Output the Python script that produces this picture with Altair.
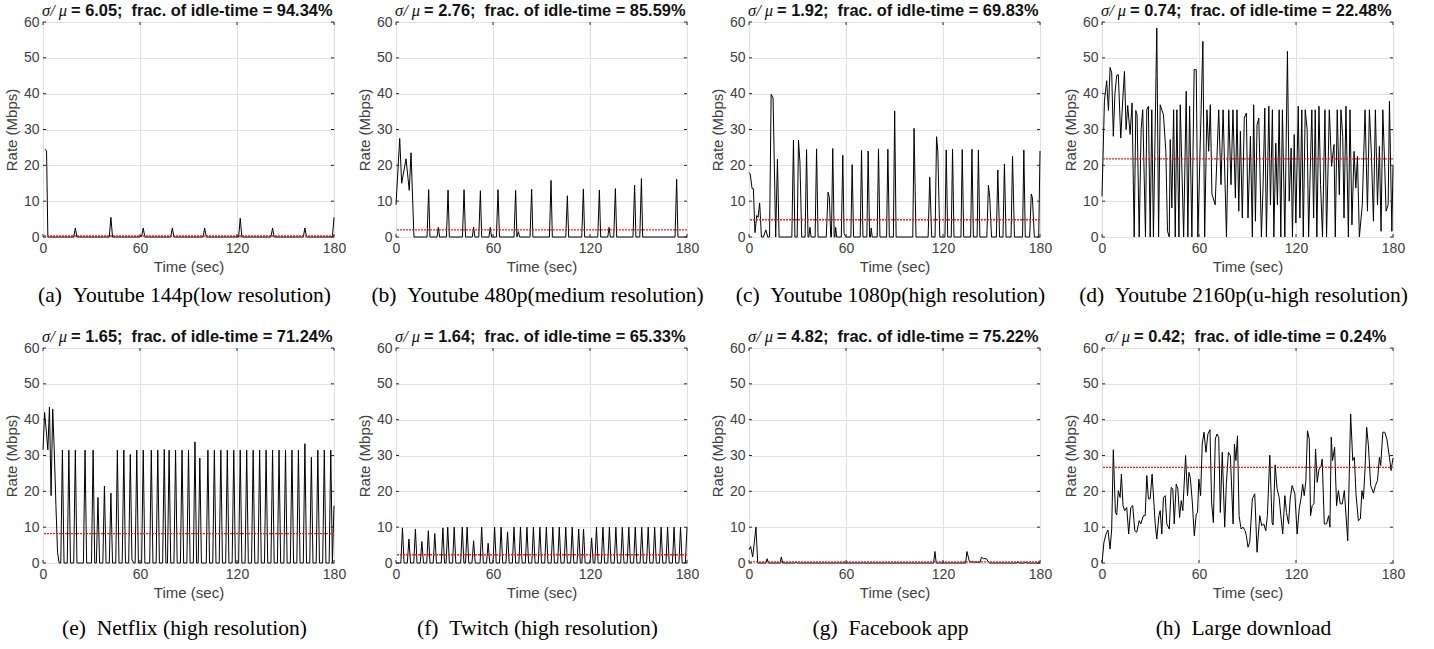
import altair as alt
import pandas as pd

# ---------------- data ----------------
X_TICKS = [0, 60, 120, 180]
Y_TICKS = [0, 10, 20, 30, 40, 50, 60]

CAPTIONS = [
    "(a)\u00a0\u00a0Youtube 144p(low resolution)",
    "(b)\u00a0\u00a0Youtube 480p(medium resolution)",
    "(c)\u00a0\u00a0Youtube 1080p(high resolution)",
    "(d)\u00a0\u00a0Youtube 2160p(u-high resolution)",
    "(e)\u00a0\u00a0Netflix (high resolution)",
    "(f)\u00a0\u00a0Twitch (high resolution)",
    "(g)\u00a0\u00a0Facebook app",
    "(h)\u00a0\u00a0Large download",
]
CV = ["6.05", "2.76", "1.92", "0.74", "1.65", "1.64", "4.82", "0.42"]
IDLE = ["94.34%", "85.59%", "69.83%", "22.48%", "71.24%", "65.33%", "75.22%", "0.24%"]
MEANS = [0.3, 2.0, 4.8, 21.8, 8.2, 2.3, 0.3, 26.7]

# (time s, rate Mbps)
A_PTS = [(1.2, 24.5), (2.2, 24), (3, 0), (19, 0), (20, 2.5), (21, 0), (41, 0), (42, 5.5), (43, 0),
         (60, 0), (60.5, 0.5), (61, 0), (62, 2.5), (63, 0), (79, 0), (80, 2.5), (81, 0), (99, 0), (100, 2.5),
         (101, 0), (121, 0), (122, 5.2), (123, 0), (141, 0), (142, 2.5), (143, 0), (161, 0), (162, 2.5),
         (163, 0), (179, 0), (180, 5.5)]

B_PTS = [(0, 9), (2.3, 27.5), (3.5, 15), (6.2, 21.8), (8.2, 13), (9.3, 23.5), (11.1, 0), (19.2, 0), (20.2, 13.2),
         (21, 0), (25.4, 0), (26.2, 2.7), (27, 0), (31.2, 0), (32.2, 13.1), (33, 0), (41.1, 0), (42.1, 13.2), (43, 0),
         (47.2, 0), (48, 2.7), (48.8, 0), (51.2, 0), (52.2, 12.9), (53, 0), (57.5, 0), (58.3, 2.7), (59.1, 0),
         (62.1, 0), (63.1, 13.2), (64, 0), (73, 0), (74, 13.0), (74.8, 0), (75.7, 1.5), (76.5, 0), (82.9, 0),
         (83.9, 13.3), (84.7, 0), (94.9, 0), (95.9, 15.8), (96.7, 0), (105, 0), (106, 11.5), (106.8, 0),
         (114.9, 0), (115.9, 13.4), (116.7, 0), (124.8, 0), (125.8, 13.1), (126.6, 0), (131, 0), (131.8, 2.7),
         (132.6, 0), (134.7, 0), (135.7, 13.5), (136.5, 0), (146.6, 0), (147.6, 14.5), (148.4, 0), (150.8, 0),
         (151.8, 16.3), (152.6, 0), (172.6, 0), (173.6, 16.1), (174.4, 0), (180, 0)]

C_PTS = [(0, 18), (0.8, 17.5), (1.9, 13.5), (2.7, 13.5), (3.7, 1.2), (4.8, 6), (5.6, 5.5), (6.6, 9.5), (7.7, 0),
         (8.9, 0), (10.4, 2), (11.6, 0), (12.7, 0), (13.7, 39.8), (14.9, 38.8), (16.5, 0), (17.6, 21.7), (18.6, 0),
         (26.5, 0), (27.5, 27), (28.4, 0), (29.8, 0), (30.6, 27), (31.5, 21), (32.6, 0), (34.7, 0), (35.6, 24.4),
         (36.5, 0), (37, 0), (37.7, 2.7), (38.4, 0), (40.9, 0), (41.8, 24.6), (42.7, 0), (47.8, 0), (48.9, 12.5),
         (49.7, 11), (50.6, 0), (51, 0), (51.8, 24.7), (52.7, 0), (53.1, 0), (53.6, 2.7), (54.2, 0), (57.1, 0),
         (58, 22.8), (58.8, 1), (59.8, 0), (63, 0), (63.8, 20.2), (64.7, 0), (68.8, 0), (69.6, 24.2), (70.5, 0),
         (72.9, 0), (73.7, 24), (74.6, 0), (75.1, 0), (75.6, 2.5), (76.2, 0), (79.3, 0), (80.1, 24.6), (81, 0),
         (85.1, 0), (85.9, 24.5), (86.8, 0), (89.3, 0), (90.1, 35.2), (91, 0), (101.3, 0), (102.1, 30.3),
         (103.3, 0), (110.8, 0), (111.8, 16.7), (113, 0), (115.1, 0), (116, 28), (116.8, 24), (118, 0),
         (121.2, 0), (122, 24.3), (122.9, 0), (125.1, 0), (125.9, 24.5), (126.8, 0), (131.1, 0), (131.9, 24.4),
         (132.8, 0), (137.1, 0), (137.9, 24.5), (138.8, 0), (141.1, 0), (141.9, 24.3), (142.8, 0), (147.1, 0),
         (148.1, 14.5), (148.9, 11), (150, 0), (153, 0), (153.9, 18.7), (155, 0), (157.1, 0), (158, 20.4),
         (159, 0), (162.1, 0), (163, 22.5), (164.2, 0), (169.2, 0), (170, 24.3), (170.9, 0), (173.6, 0),
         (174.6, 12), (175.3, 11), (176.5, 0), (179.2, 0), (180, 24)]

D_PTS = [(0, 11.3), (1.5, 38), (2.9, 43.6), (4, 35.3), (5, 47.3), (6, 45.8), (7, 28.1), (8, 40), (9.1, 45.1),
         (10.1, 45.3), (11.6, 27.6), (12.8, 38), (13.9, 46.2), (14.9, 30), (15.9, 36.7), (17.4, 28.6), (18.6, 37.4),
         (19.9, 0), (20.9, 35.3), (21.7, 34.1), (23, 0), (24.2, 30), (25.2, 35.5), (26.9, 0), (27.7, 35.5),
         (28.7, 36.5), (29.8, 0), (30.8, 35.5), (31.8, 0), (33.9, 58.3), (35, 0), (36, 36.9), (38, 34.1),
         (39.5, 23.9), (40.5, 1.6), (41.6, 0), (42.2, 27.2), (43.2, 8.1), (44.3, 35.5), (45.3, 0), (46.3, 35.5),
         (47.6, 0), (48.4, 36.9), (50.5, 0), (52.1, 40.7), (53.1, 0), (54.2, 36.5), (55.6, 0), (57, 46.7),
         (58.3, 46.7), (59.3, 0), (62.4, 54.6), (63.5, 0), (64.9, 35.5), (66, 23.9), (67, 36.9), (68, 12), (70, 9),
         (72.2, 35.5), (73.6, 14.6), (74.9, 35.5), (77, 0), (78.4, 35.5), (79.8, 14.6), (81, 35.5), (82.5, 10.9),
         (83.5, 35.5), (84.6, 7.2), (85.6, 29.5), (86.8, 5.3), (88, 33.2), (89.3, 34.6), (90.3, 5.3), (91.8, 28.1),
         (93, 0), (93.8, 36.9), (94.9, 4.4), (95.9, 31.3), (97, 33.2), (98.6, 0), (99.6, 13.7), (100.7, 36),
         (101.7, 0), (103.2, 36.5), (104.2, 9), (105.4, 35.5), (106.3, 0), (107.5, 26.2), (108.5, 9), (109.6, 35.5),
         (110.6, 0), (111.6, 35.5), (113.1, 0), (114.7, 51.8), (115.8, 10), (117, 24.8), (117.8, 0), (118.9, 28.6),
         (119.9, 3.9), (121.4, 36.5), (122.4, 5.3), (123.6, 35.5), (124.5, 0), (125.7, 35.5), (126.9, 30),
         (127.8, 0), (128.6, 14.6), (129.8, 35.5), (130.9, 5.3), (131.9, 35.5), (132.9, 0), (134.2, 36.5),
         (135.2, 14.6), (136.4, 0), (137.9, 35.5), (138.9, 0), (140.6, 35.5), (142, 19.7), (143.5, 25.8),
         (144.3, 0), (145.5, 35.5), (146.8, 11.8), (147.8, 35.5), (148.9, 28.1), (149.7, 5.3), (150.9, 36.5),
         (152.4, 0), (153.4, 35.5), (154.6, 3.4), (155.9, 23.9), (157, 13.7), (158, 22.5), (159.2, 0), (161, 9),
         (162.7, 35.5), (164.2, 7.2), (165.4, 35.5), (166.6, 23.4), (167.9, 4.4), (169.1, 35.5), (170.4, 9),
         (171.6, 25.3), (172.6, 1.6), (173.7, 35.5), (174.9, 19.3), (175.7, 7.2), (177, 9), (177.8, 37.9),
         (179.3, 1.6), (180, 20)]

# one value per second, t = 0 ... 180
E_RATE = [31.6, 42, 37, 31.6, 43.5, 18.8, 43, 31, 16, 3,
          0, 0, 31.5, 0, 0, 0, 31.5, 0, 0, 0,
          31.5, 0, 0, 0, 0, 0, 31.5, 0, 0, 0,
          0, 31.5, 0, 0, 18.3, 0, 0, 0, 21.5, 0,
          0, 0, 19.5, 0, 0, 0, 31.5, 0, 0, 0,
          31.5, 0, 0, 0, 30.3, 1, 0, 0, 31.5, 0,
          0, 0, 31.5, 0, 0, 0, 0, 31.5, 0, 0,
          0, 31.5, 0, 0, 0, 31.7, 0, 0, 31.5, 0,
          0, 0, 31.5, 0, 0, 0, 31.5, 0, 0, 0,
          31.5, 0, 0, 0, 33.8, 0, 0, 29.3, 0, 0,
          0, 0, 31.5, 0, 0, 0, 31.5, 0, 0, 0,
          31.5, 0, 0, 0, 31.5, 0, 0, 0, 31.5, 0,
          0, 0, 31.5, 0, 0, 0, 31.5, 0, 0, 0,
          31.5, 0, 0, 0, 31.5, 0, 0, 0, 31.5, 0,
          0, 0, 31.5, 0, 0, 0, 31.5, 0, 0, 0,
          31.5, 0, 0, 0, 31.5, 0, 0, 0, 31.5, 0,
          0, 0, 33.3, 0, 0, 0, 29.5, 0, 0, 0,
          31.5, 0, 0, 0, 31.5, 0, 0, 0, 31.5, 0,
          16]

F_RATE = [0, 0, 0, 0, 9.8, 0, 0, 0, 6.7, 0,
          0, 0, 9.5, 0, 0, 0, 6, 0, 0, 0,
          9, 0, 0, 0, 8.2, 0, 0, 0, 0, 9.8,
          0, 0, 10, 0, 0, 0, 10, 0, 0, 0,
          0, 10, 0, 0, 10, 0, 0, 0, 6.2, 0,
          0, 0, 0, 10, 0, 0, 0, 5.5, 0, 0,
          0, 10, 0, 0, 0, 10, 0, 0, 0, 8.7,
          0, 0, 0, 10, 0, 0, 0, 10, 0, 0,
          0, 10, 0, 0, 0, 10, 0, 0, 0, 10,
          0, 0, 0, 10, 0, 0, 0, 10, 0, 0,
          0, 10, 0, 0, 0, 10, 0, 0, 0, 10,
          0, 0, 0, 9.5, 0, 0, 9.5, 0, 0, 0,
          0, 7, 0, 0, 10, 0, 0, 0, 10, 0,
          0, 0, 10, 0, 0, 0, 10, 0, 0, 0,
          10, 0, 0, 0, 10, 0, 0, 0, 10, 0,
          0, 0, 10, 0, 0, 0, 10, 0, 0, 0,
          10, 0, 0, 0, 10, 0, 0, 0, 10, 0,
          0, 0, 10, 0, 0, 0, 10, 0, 0, 0,
          10]

G_PTS = [(0, 3.7), (1, 4.6), (2.3, 1.7), (4.3, 10), (5.4, 0), (10.5, 0), (11.2, 1.2), (12, 0), (19.3, 0),
         (20, 1.7), (20.8, 0), (28.5, 0), (29, 0.3), (29.6, 0), (114.2, 0), (115, 3.2), (115.8, 0), (134, 0),
         (134.8, 3.2), (136.4, 0.3), (143, 0.2), (143.7, 1.6), (145, 1.2), (146.8, 1.2), (147.8, 0.5), (149, 0),
         (166, 0), (166.4, 0.3), (167, 0), (170.5, 0), (171, 0.3), (171.5, 0), (180, 0)]

H_PTS = [(0, 0), (1.2, 5.8), (2.5, 8.1), (3.7, 9.2), (5, 3.9), (6, 9.5), (7, 31.6), (8.3, 14.1), (9.1, 13.4),
         (10.1, 20.2), (11.2, 18.3), (12, 24.8), (13, 16), (14, 14.6), (15.3, 15.5), (16.5, 8.1), (17.8, 15.5),
         (19, 16), (20.3, 9), (21.5, 8.6), (23, 11.8), (24, 10.9), (25.6, 13.2), (26.7, 13.2), (27.7, 24.4),
         (28.7, 17.9), (29.8, 17.9), (31, 24.8), (32.9, 10.9), (33.9, 6.7), (35.2, 13.2), (36, 14.6), (37, 8.1),
         (38, 18.3), (39.1, 18.8), (40.1, 10.9), (41.6, 9.5), (42.8, 21.1), (43.8, 20.7), (44.7, 10.9), (45.9, 22),
         (46.9, 20.7), (48, 12.7), (49, 17.4), (50, 14.6), (51.7, 30), (52.9, 18.8), (53.8, 25.3), (54.6, 23.9),
         (55.8, 17.4), (57.1, 7.6), (58.3, 13.7), (59.1, 14.1), (59.9, 23.4), (61, 18.8), (62, 33.2), (63.1, 36.5),
         (64.3, 30.9), (65.5, 36), (66.8, 37.2), (67.8, 16.9), (68.9, 11.3), (70.1, 34.6), (71.1, 36), (72.2, 35.1),
         (73.2, 14.1), (74.4, 30.9), (75.9, 10), (76.9, 22), (78.2, 30.9), (79.4, 30), (81.1, 10.9), (81.9, 33.2),
         (82.8, 28.6), (83.8, 35.5), (84.8, 13.2), (86, 9.5), (87.3, 10), (88.5, 9), (89.3, 7.6), (90.3, 4.4),
         (91.4, 5.8), (93, 17.9), (94.5, 19.3), (95.9, 3), (97.6, 13.2), (98.8, 10.4), (100.1, 10.9), (101.3, 9),
         (102.3, 13.2), (103.8, 30.1), (105.2, 11.3), (105.8, 10.6), (107.1, 27.4), (108.3, 20.7), (109.6, 18.3),
         (110.6, 13.2), (111.8, 8.1), (113.1, 18.8), (114.1, 14.1), (115.4, 10.9), (116.4, 17.9), (117.6, 21.6),
         (119.3, 19.3), (120.7, 8.1), (122, 15.1), (123.2, 18.3), (124.1, 22), (125.1, 18.8), (126.1, 23),
         (127.1, 36.9), (128.2, 34.6), (129, 13.2), (130, 16), (131.1, 16.5), (132.1, 31.8), (133.1, 22.5),
         (134.2, 26.2), (135.4, 26.7), (136.2, 29), (137.5, 10.9), (138.9, 10.9), (140.2, 13.2), (141, 10),
         (141.8, 35.1), (142.6, 28.6), (143.9, 32.3), (145.1, 16), (146.2, 20.2), (147.4, 16.5), (148.6, 16.5),
         (149.9, 20.2), (152, 6.2), (153.8, 41.6), (155.1, 28.6), (156.1, 29.5), (157.1, 19.3), (158.6, 11.8),
         (159.8, 12.3), (160.8, 20.2), (161.7, 17.9), (162.7, 26.2), (163.7, 37.9), (164.8, 32.7), (166.2, 21.6),
         (167.9, 19.5), (169.1, 21.6), (170.4, 23), (171.6, 29.5), (172.4, 27.2), (173.7, 36.5), (174.9, 36.5),
         (176.2, 34.6), (177.8, 29.5), (178.8, 25.8), (180, 29.3)]

SECONDS = list(range(181))

SERIES = [
    pd.DataFrame(A_PTS, columns=["t", "v"]),
    pd.DataFrame(B_PTS, columns=["t", "v"]),
    pd.DataFrame(C_PTS, columns=["t", "v"]),
    pd.DataFrame(D_PTS, columns=["t", "v"]),
    pd.DataFrame({"t": SECONDS, "v": E_RATE}),
    pd.DataFrame({"t": SECONDS, "v": F_RATE}),
    pd.DataFrame(G_PTS, columns=["t", "v"]),
    pd.DataFrame(H_PTS, columns=["t", "v"]),
]

# ---------------- layout ----------------
W, H = 291, 215
AX = "#262626"


def panel(i):
    xs = alt.X("t:Q", scale=alt.Scale(domain=[0, 180], nice=False, zero=False),
               axis=alt.Axis(values=X_TICKS, title="Time (sec)", labelFlush=False, format="d"))
    ys = alt.Y("v:Q", scale=alt.Scale(domain=[0, 60], nice=False),
               axis=alt.Axis(values=Y_TICKS, title="Rate (Mbps)", format="d"))

    line = alt.Chart(SERIES[i]).mark_line(color="black", strokeWidth=1).encode(x=xs, y=ys)

    mean = alt.Chart(pd.DataFrame({"v": [MEANS[i]]})).mark_rule(
        color="#ff0000", strokeDash=[2, 1], strokeWidth=1.4, opacity=0.9).encode(y=ys)

    xt = pd.DataFrame({"t": X_TICKS})
    yt = pd.DataFrame({"v": Y_TICKS})
    tick_b = alt.Chart(xt).mark_rule(color=AX).encode(x=xs, y=alt.value(H), y2=alt.value(H - 3))
    tick_t = alt.Chart(xt).mark_rule(color=AX).encode(x=xs, y=alt.value(0), y2=alt.value(3))
    tick_l = alt.Chart(yt).mark_rule(color=AX).encode(y=ys, x=alt.value(0), x2=alt.value(3))
    tick_r = alt.Chart(yt).mark_rule(color=AX).encode(y=ys, x=alt.value(W), x2=alt.value(W - 3))

    shift = (6 - len(IDLE[i])) * 4
    x0 = -1 + shift
    t_it = alt.Chart(pd.DataFrame({"s": ["σ/ μ"]})).mark_text(
        align="left", baseline="alphabetic", font="Liberation Serif", fontStyle="italic",
        fontSize=16.5, color="#111111").encode(x=alt.value(x0), y=alt.value(-6), text="s:N")
    t_bd = alt.Chart(pd.DataFrame({"s": [f"= {CV[i]};\u00a0 frac. of idle-time = {IDLE[i]}"]})).mark_text(
        align="left", baseline="alphabetic", font="Liberation Sans", fontWeight="bold",
        fontSize=16.4, color="#111111").encode(x=alt.value(x0 + 29), y=alt.value(-6), text="s:N")

    cap_off = 65 if i < 4 else 72
    cap = alt.Chart(pd.DataFrame({"s": [CAPTIONS[i]]})).mark_text(
        align="center", baseline="alphabetic", font="Liberation Serif", fontSize=21.5,
        color="black").encode(x=alt.value(W / 2 - 4), y=alt.value(H + cap_off), text="s:N")

    return alt.layer(line, mean, tick_b, tick_t, tick_l, tick_r, t_it, t_bd, cap).properties(width=W, height=H)


chart = alt.concat(
    *[panel(i) for i in range(8)], columns=4,
    spacing={"row": 111, "column": 62}, bounds="flush"
).properties(
    padding={"left": 3, "top": 2, "right": 5, "bottom": 5}, background="white"
).configure_view(
    stroke=AX, strokeWidth=1
).configure_axis(
    labelFont="Liberation Sans", labelFontSize=14, labelColor="#404040",
    titleFont="Liberation Sans", titleFontSize=15, titleFontWeight="normal", titleColor="#404040",
    gridColor="#e0e0e0", gridWidth=1, domain=False, ticks=False,
    labelPadding=4, titlePadding=4
)

chart.save("out.html", embed_options={"renderer": "svg", "actions": False})
